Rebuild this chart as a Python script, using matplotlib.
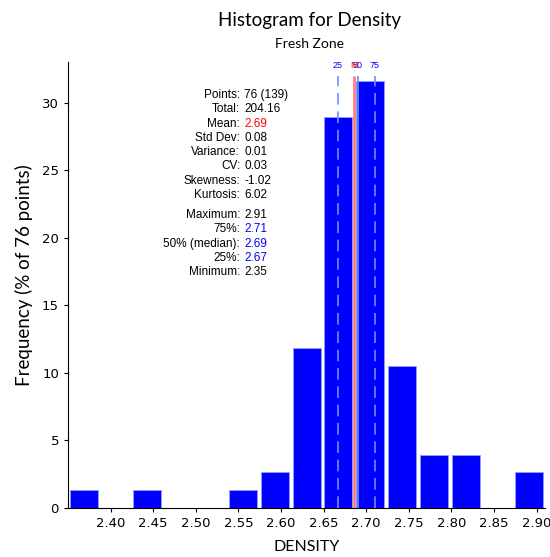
import numpy as np
import matplotlib
matplotlib.use("Agg")
import matplotlib.pyplot as plt

# histogram data (percent of 76 points), 15 bins between min and max
x_min = 2.35
x_max = 2.91
n_bins = 15
freq = [1.32, 0, 1.32, 0, 0, 1.32, 2.63, 11.84, 28.95, 31.58, 10.53, 3.95, 3.95, 0, 2.63]

mean_val = 2.6863
p25 = 2.667
p50 = 2.690
p75 = 2.710

xticks = [2.40, 2.45, 2.50, 2.55, 2.60, 2.65, 2.70, 2.75, 2.80, 2.85, 2.90]
yticks = [0, 5, 10, 15, 20, 25, 30]

stats1 = [("Points:", "76 (139)", "black"), ("Total:", "204.16", "black"),
          ("Mean:", "2.69", "red"), ("Std Dev:", "0.08", "black"),
          ("Variance:", "0.01", "black"), ("CV:", "0.03", "black"),
          ("Skewness:", "-1.02", "black"), ("Kurtosis:", "6.02", "black")]
stats2 = [("Maximum:", "2.91", "black"), ("75%:", "2.71", "blue"),
          ("50% (median):", "2.69", "blue"), ("25%:", "2.67", "blue"),
          ("Minimum:", "2.35", "black")]

fig = plt.figure(figsize=(5.5, 5.57), dpi=100)
ax = fig.add_axes([0.1236, 0.088, 0.8674, 0.8007])

edges = np.linspace(x_min, x_max, n_bins + 1)
w = edges[1] - edges[0]
ax.bar(edges[:-1] + w / 2, freq, width=w * 0.88, color="#0000ff",
       edgecolor="#8fa0ff", linewidth=0.6, zorder=2)

ax.set_xlim(x_min, x_max)
ax.set_ylim(0, 33)
ax.set_xticks(xticks)
ax.set_xticklabels(["%.2f" % v for v in xticks], fontsize=9.5)
ax.set_yticks(yticks)
ax.set_yticklabels([str(v) for v in yticks], fontsize=9.5)
ax.spines["top"].set_visible(False)
ax.spines["right"].set_visible(False)
ax.tick_params(length=3, width=0.8)

# percentile / mean markers
ytop = 32.0
ax.vlines([p25, p75], 0, ytop, colors="#6f8fff", linestyles=(0, (7, 4)), linewidth=1.2, zorder=3)
ax.vlines([p50], 0, ytop, colors="#6f8fff", linewidth=1.2, zorder=3)
ax.vlines([mean_val], 0, ytop, colors="#ff8080", linewidth=2, zorder=4)
for xv, lab, c in [(p25, "25", "blue"), (p75, "75", "blue"), (p50, "50", "blue"), (mean_val, "M", "red")]:
    ax.text(xv, 32.75, lab, color=c, fontsize=6.5, ha="center", va="center",
            family="Liberation Sans", zorder=5)

# stats text block
tfs = 8.5
xl = 0.361
y0 = 0.926
dy = 0.032
for i, (a, b, c) in enumerate(stats1):
    ax.text(xl, y0 - i * dy, a, transform=ax.transAxes, ha="right", va="center",
            fontsize=tfs, family="Liberation Sans")
    ax.text(xl + 0.008, y0 - i * dy, b, transform=ax.transAxes, ha="left", va="center",
            fontsize=tfs, family="Liberation Sans", color=c)
y1 = y0 - 8 * dy - 0.013
for i, (a, b, c) in enumerate(stats2):
    ax.text(xl, y1 - i * dy, a, transform=ax.transAxes, ha="right", va="center",
            fontsize=tfs, family="Liberation Sans")
    ax.text(xl + 0.008, y1 - i * dy, b, transform=ax.transAxes, ha="left", va="center",
            fontsize=tfs, family="Liberation Sans", color=c)

fig.text(0.563, 0.963, "Histogram for Density", ha="center", va="center",
         fontsize=13.5, family="Lato")
fig.text(0.563, 0.921, "Fresh Zone", ha="center", va="center", fontsize=10, family="Lato")
ax.set_xlabel("DENSITY", fontsize=11.5, family="Lato", labelpad=7)
ax.set_ylabel("Frequency (% of 76 points)", fontsize=13.5, family="Lato")
ax.yaxis.set_label_coords(-0.073, 0.522)

fig.savefig("out.png", dpi=100)
